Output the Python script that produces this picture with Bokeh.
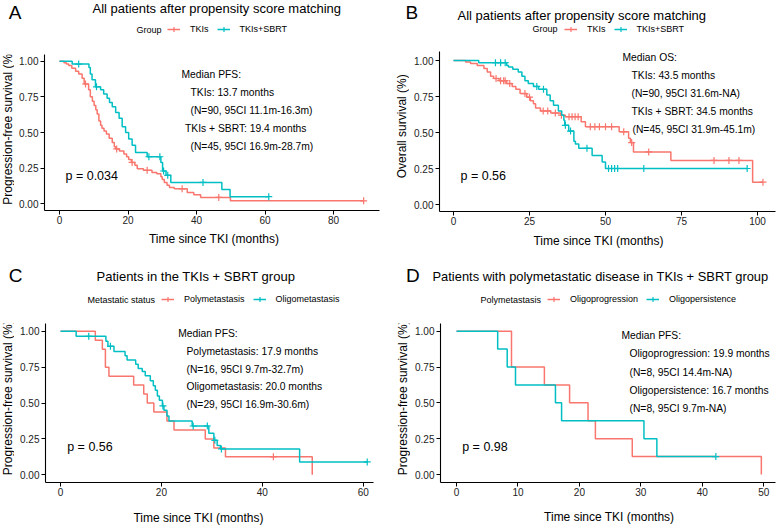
import math
from bokeh.plotting import figure
from bokeh.models import Label, Legend, LegendItem, Range1d, FixedTicker, NumeralTickFormatter
from bokeh.layouts import column, row
from bokeh.embed import file_html
from bokeh.resources import INLINE

RED = "#F8766D"
TEAL = "#00BFC4"
FONT = "Liberation Sans"
NAN = float("nan")

# ---------------- data ----------------
# Panel A : PFS, all patients after PSM
a_tki_time = [1.3, 2.0, 2.7, 3.6, 4.7, 5.6, 6.6, 7.2, 8.5, 9.0, 9.6, 10.1, 10.6, 11.0, 11.5, 12.0, 12.4, 13.0,
              13.7, 14.5, 15.4, 16.0, 16.4, 17.5, 18.8, 19.6, 20.2, 21.0, 22.0, 22.7, 24.5, 27.0, 28.4, 29.6,
              30.0, 30.6, 31.4, 32.1, 33.5, 37.3, 39.2, 41.2, 49.9]
a_tki_surv = [0.99, 0.98, 0.97, 0.95, 0.93, 0.91, 0.88, 0.84, 0.80, 0.75, 0.72, 0.69, 0.66, 0.63, 0.58, 0.55,
              0.53, 0.51, 0.49, 0.46, 0.43, 0.40, 0.385, 0.37, 0.35, 0.33, 0.31, 0.29, 0.27, 0.245, 0.235, 0.22,
              0.21, 0.19, 0.17, 0.15, 0.13, 0.115, 0.105, 0.08, 0.063, 0.045, 0.021]
a_tki_end = 88.8
a_tki_cens = [7.6, 16.7, 21.2, 25.6, 35.8, 46.5, 88.8]

a_sbrt_time = [3.7, 8.6, 9.0, 9.5, 10.5, 12.0, 12.9, 13.9, 14.6, 15.4, 16.4, 17.4, 18.3, 19.3, 20.2, 21.2,
               22.2, 25.6, 29.6, 30.1, 31.1, 32.5, 47.4, 49.8]
a_sbrt_surv = [0.98, 0.955, 0.91, 0.87, 0.82, 0.80, 0.77, 0.74, 0.71, 0.68, 0.64, 0.60, 0.54, 0.50, 0.455,
               0.41, 0.36, 0.33, 0.29, 0.23, 0.20, 0.15, 0.10, 0.05]
a_sbrt_end = 61.1
a_sbrt_cens = [5.6, 10.8, 26.1, 29.3, 30.4, 31.6, 41.9, 61.1]
a_xticks = [0, 20, 40, 60, 80]

# Panel B : OS, all patients after PSM
b_tki_time = [4.0, 5.6, 7.8, 10.0, 11.1, 12.2, 13.2, 15.0, 17.5, 19.3, 20.5, 21.9, 24.1, 25.3, 26.3, 27.0,
              28.6, 32.0, 35.2, 36.8, 42.0, 43.4, 54.5, 57.6, 58.2, 59.2, 71.5, 98.4]
b_tki_surv = [0.99, 0.98, 0.965, 0.945, 0.92, 0.89, 0.875, 0.86, 0.84, 0.82, 0.80, 0.77, 0.745, 0.72, 0.70,
              0.67, 0.65, 0.635, 0.62, 0.61, 0.575, 0.54, 0.505, 0.46, 0.43, 0.365, 0.306, 0.155]
b_tki_end = 101.8
b_tki_cens = [14.0, 15.5, 16.5, 17.0, 18.5, 23.5, 25.0, 29.5, 31.0, 33.5, 35.5, 38.0, 39.0, 40.0, 41.0,
              45.0, 46.5, 48.0, 50.0, 52.0, 56.0, 58.6, 64.2, 85.7, 90.6, 93.9, 101.8]

b_sbrt_time = [8.3, 17.5, 18.1, 19.5, 21.3, 22.5, 23.5, 24.6, 26.3, 28.0, 30.7, 31.8, 32.9, 34.5, 35.6,
               36.3, 36.6, 37.9, 39.6, 40.1, 41.2, 45.6, 48.9, 50.0]
b_sbrt_surv = [0.985, 0.965, 0.955, 0.94, 0.92, 0.89, 0.86, 0.84, 0.82, 0.80, 0.76, 0.72, 0.69, 0.65, 0.62,
               0.585, 0.55, 0.51, 0.44, 0.42, 0.39, 0.34, 0.295, 0.25]
b_sbrt_end = 96.6
b_sbrt_cens = [13.8, 15.5, 17.0, 27.4, 29.6, 36.8, 38.5, 43.9, 51.0, 52.0, 53.0, 54.0, 62.6, 96.6]
b_xticks = [0, 25, 50, 75, 100]

# Panel C : PFS in TKIs + SBRT group by metastatic status
c_poly_time = [6.9, 8.3, 8.9, 9.6, 14.5, 16.5, 17.2, 18.5, 21.1, 22.5, 28.7, 30.4, 32.7, 49.9]
c_poly_surv = [0.9375, 0.875, 0.75, 0.6875, 0.625, 0.5625, 0.5, 0.4375, 0.375, 0.3125, 0.25, 0.1875, 0.125, 0.0]
c_poly_end = 49.9
c_poly_cens = [42.2]

c_oligo_time = [3.1, 9.0, 9.4, 10.6, 12.8, 13.2, 14.9, 15.4, 16.2, 16.8, 17.8, 18.4, 18.8, 19.2, 19.6, 20.2,
                20.5, 21.1, 21.5, 26.1, 29.4, 30.4, 31.05, 31.7, 47.4]
c_oligo_surv = [0.965, 0.93, 0.895, 0.86, 0.83, 0.80, 0.77, 0.74, 0.72, 0.69, 0.655, 0.62, 0.59, 0.55, 0.52,
                0.48, 0.45, 0.41, 0.375, 0.34, 0.29, 0.24, 0.205, 0.18, 0.09]
c_oligo_end = 60.8
c_oligo_cens = [5.6, 9.9, 20.3, 26.3, 29.1, 30.6, 31.9, 60.8]
c_xticks = [0, 20, 40, 60]

# Panel D : polymetastatic disease in TKIs + SBRT group
d_prog_time = [8.95, 14.3, 18.4, 21.4, 22.6, 28.6, 49.6]
d_prog_surv = [0.75, 0.625, 0.5, 0.375, 0.25, 0.125, 0.0]
d_prog_end = 49.6
d_prog_cens = []

d_pers_time = [6.7, 8.25, 9.6, 16.1, 17.1, 30.5, 32.6]
d_pers_surv = [0.875, 0.75, 0.625, 0.5, 0.375, 0.25, 0.125]
d_pers_end = 42.2
d_pers_cens = [42.2]
d_xticks = [0, 10, 20, 30, 40, 50]

y_ticks = [0.0, 0.25, 0.5, 0.75, 1.0]


def step_xy(times, survs, end):
    xs = [0.0] + list(times)
    ys = [1.0] + list(survs)
    if end > xs[-1]:
        xs.append(end)
        ys.append(ys[-1])
    return xs, ys


def surv_at(times, survs, t):
    s = 1.0
    for ti, si in zip(times, survs):
        if ti <= t:
            s = si
    return s


def text_fig(px, py, w, h):
    """A blank canvas whose data coordinates are pixels measured from (px, py) on the page."""
    f = figure(width=int(w), height=int(h), x_range=Range1d(0, w), y_range=Range1d(h, 0),
               min_border_left=0, min_border_right=0, min_border_top=0, min_border_bottom=0,
               output_backend="svg", toolbar_location=None, title=None,
               x_axis_type=None, y_axis_type=None)
    f.outline_line_color = None
    f.background_fill_color = "white"
    f.border_fill_color = "white"

    def lab(text, x, y, size, align="left", angle=0.0):
        f.add_layout(Label(x=x - px, y=y - py, text=text, text_font=FONT,
                           text_font_size=f"{size}px", text_color="black",
                           text_align=align, text_baseline="middle", angle=angle))
    return f, lab


def make_panel(cfg):
    cx, cy, W, H = cfg["cell"]
    x0, kx, y0, ky = cfg["map"]
    L, R, T, B = cfg["frame"]
    R = min(R, cx + W - 2)
    ywid = cfg["ywid"]

    def X(px):
        return (px - x0) / kx

    def Y(py):
        return (y0 - py) / ky

    main_top = T - 6
    main_bot = B + 18
    head_h = main_top - cy
    foot_h = cy + H - main_bot
    mx = cx + ywid
    mw = W - ywid
    mh = main_bot - main_top

    # ---- main plotting figure ----
    p = figure(width=int(mw), height=int(mh),
               x_range=Range1d(X(L), X(R)), y_range=Range1d(Y(B), Y(T)),
               min_border_left=int(round(L - mx)), min_border_right=int(round(mx + mw - R)),
               min_border_top=6, min_border_bottom=18,
               output_backend="svg", toolbar_location=None, title=None)
    p.outline_line_color = None
    p.xgrid.visible = False
    p.ygrid.visible = False
    p.xaxis.ticker = FixedTicker(ticks=cfg["xticks"])
    p.yaxis.ticker = FixedTicker(ticks=y_ticks)
    p.yaxis.formatter = NumeralTickFormatter(format="0.00")
    for ax in (p.xaxis, p.yaxis):
        ax.axis_line_color = "black"
        ax.axis_line_width = 1.1
        ax.major_tick_line_color = "black"
        ax.major_tick_line_width = 1.0
        ax.major_tick_out = 4
        ax.major_tick_in = 0
        ax.minor_tick_line_color = None
        ax.major_label_text_font = FONT
        ax.major_label_text_font_size = "10px"
        ax.major_label_text_color = "#222222"
    p.xaxis.major_label_standoff = 1
    p.yaxis.major_label_standoff = 2

    for (tt, ss, end, cens, col) in cfg["curves"]:
        xs, ys = step_xy(tt, ss, end)
        p.step(xs, ys, mode="after", line_color=col, line_width=1.5)
        cyv = [surv_at(tt, ss, c) for c in cens]
        p.scatter(list(cens), cyv, marker="cross", size=7, line_color=col, line_width=1.2)

    def plab(text, px, py, size):
        p.add_layout(Label(x=X(px), y=Y(py), text=text, text_font=FONT,
                           text_font_size=f"{size}px", text_color="black",
                           text_align="left", text_baseline="middle"))

    msize = cfg.get("median_size", 10.3)
    for (t, px, py) in cfg["median"]:
        plab(t, px, py, msize)
    pt, ppx, ppy = cfg["pval"]
    plab(pt, ppx, ppy, 12.5)

    # ---- header: panel letter, title, legend ----
    hf, hlab = text_fig(cx, cy, W, head_h)
    lt, lx, ly = cfg["letter"]
    hlab(lt, lx, ly, 19)
    tt_, tx, ty = cfg["title"]
    hlab(tt_, tx, ty, cfg.get("title_size", 13))
    gt, gx, gy = cfg["legend_title"]
    hlab(gt, gx, gy, 9)
    items = []
    for name, (_, _, _, _, col) in zip(cfg["legend_labels"], cfg["curves"]):
        r = hf.line(x=[NAN], y=[NAN], line_color=col, line_width=1.5)
        m = hf.scatter(x=[NAN], y=[NAN], marker="cross", size=7, line_color=col, line_width=1.2)
        items.append(LegendItem(label=name, renderers=[r, m]))
    gcy = gy - cy
    leg = Legend(items=items, orientation="horizontal",
                 location=(cfg["legend_x"] - cx, head_h - gcy - 6),
                 padding=0, margin=0, spacing=8, glyph_width=13, glyph_height=12,
                 label_height=12, label_width=1, label_standoff=10,
                 label_text_font=FONT, label_text_font_size="9px", label_text_color="black",
                 border_line_color=None, background_fill_alpha=0)
    hf.add_layout(leg)

    # ---- y axis title ----
    yf, ylab = text_fig(cx, main_top, ywid, mh)
    yt, ytx = cfg["ytitle"]
    ylab(yt, ytx, (T + B) / 2.0, 12, align="center", angle=math.pi / 2)

    # ---- x axis title ----
    ff, flab = text_fig(cx, main_bot, W, foot_h)
    xt, xtx, xty = cfg["xtitle"]
    flab(xt, xtx, xty, 12, align="center")

    return column(hf, row(yf, p), ff)


cfgA = dict(
    cell=(0, 0, 389, 263), map=(59.0, 3.425, 203.3, 142.6), frame=(44, 379, 54, 210), ywid=14,
    xticks=a_xticks,
    curves=[(a_tki_time, a_tki_surv, a_tki_end, a_tki_cens, RED),
            (a_sbrt_time, a_sbrt_surv, a_sbrt_end, a_sbrt_cens, TEAL)],
    letter=("A", 8.3, 11.7), title=("All patients after propensity score matching", 92, 7.5),
    legend_title=("Group", 136, 29.3), legend_x=167, legend_labels=["TKIs", "TKIs+SBRT"],
    median=[("Median PFS:", 181, 74.3), ("TKIs: 13.7 months", 190, 92), ("(N=90, 95CI 11.1m-16.3m)", 190, 110),
            ("TKIs + SBRT: 19.4 months", 184.5, 128), ("(N=45, 95CI 16.9m-28.7m)", 190, 146)],
    pval=("p = 0.034", 65, 175), xtitle=("Time since TKI (months)", 213.5, 238.3),
    ytitle=("Progression-free survival (%)", 7.5),
)

cfgB = dict(
    cell=(389, 0, 388, 263), map=(453.0, 3.04, 204.0, 144.0), frame=(439, 777, 51, 211), ywid=20,
    xticks=b_xticks,
    curves=[(b_tki_time, b_tki_surv, b_tki_end, b_tki_cens, RED),
            (b_sbrt_time, b_sbrt_surv, b_sbrt_end, b_sbrt_cens, TEAL)],
    letter=("B", 405, 11.7), title=("All patients after propensity score matching", 457, 14.5),
    legend_title=("Group", 532, 28.7), legend_x=564, legend_labels=["TKIs", "TKIs+SBRT"],
    median=[("Median OS:", 622, 56.7), ("TKIs: 43.5 months", 631, 75), ("(N=90, 95CI 31.6m-NA)", 631, 93.3),
            ("TKIs + SBRT: 34.5 months", 631, 111), ("(N=45, 95CI 31.9m-45.1m)", 632, 129.3)],
    pval=("p = 0.56", 460, 175), xtitle=("Time since TKI (months)", 598, 240),
    ytitle=("Overall survival (%)", 401.5),
)

cfgC = dict(
    cell=(0, 263, 389, 262), map=(60.0, 5.045, 474.3, 143.5), frame=(45, 373, 323, 482), ywid=14,
    xticks=c_xticks,
    curves=[(c_poly_time, c_poly_surv, c_poly_end, c_poly_cens, RED),
            (c_oligo_time, c_oligo_surv, c_oligo_end, c_oligo_cens, TEAL)],
    letter=("C", 8.3, 274.7), title=("Patients in the TKIs + SBRT group", 96, 276.3),
    legend_title=("Metastatic status", 87, 299), legend_x=161, legend_labels=["Polymetastasis", "Oligometastasis"],
    median=[("Median PFS:", 177.7, 332.7), ("Polymetastasis: 17.9 months", 186, 350.5),
            ("(N=16, 95CI 9.7m-32.7m)", 186, 368.5), ("Oligometastasis: 20.0 months", 186, 386.3),
            ("(N=29, 95CI 16.9m-30.6m)", 186, 404)],
    pval=("p = 0.56", 66.7, 446.7), xtitle=("Time since TKI (months)", 198, 517.5),
    ytitle=("Progression-free survival (%)", 7.0),
)

cfgD = dict(
    cell=(389, 263, 388, 262), map=(456.0, 6.146, 474.0, 143.3), frame=(440, 777, 323, 482), ywid=21,
    xticks=d_xticks,
    curves=[(d_prog_time, d_prog_surv, d_prog_end, d_prog_cens, RED),
            (d_pers_time, d_pers_surv, d_pers_end, d_pers_cens, TEAL)],
    letter=("D", 405.5, 274.7), title=("Patients with polymetastatic disease in TKIs + SBRT group", 432, 276.3),
    title_size=12.9,
    legend_title=("Polymetastasis", 480, 299), legend_x=547, legend_labels=["Oligoprogression", "Oligopersistence"],
    median=[("Median PFS:", 621, 335), ("Oligoprogression: 19.9 months", 629, 353.3),
            ("(N=8, 95CI 14.4m-NA)", 629, 371.7), ("Oligopersistence: 16.7 months", 629, 390),
            ("(N=8, 95CI 9.7m-NA)", 629, 408.3)],
    median_size=10.3,
    pval=("p = 0.98", 461.7, 446.7), xtitle=("Time since TKI (months)", 608.7, 516.7),
    ytitle=("Progression-free survival (%)", 402.5),
)

layout = column(row(make_panel(cfgA), make_panel(cfgB)),
                row(make_panel(cfgC), make_panel(cfgD)))
open("out.html", "w").write(file_html(layout, INLINE))
